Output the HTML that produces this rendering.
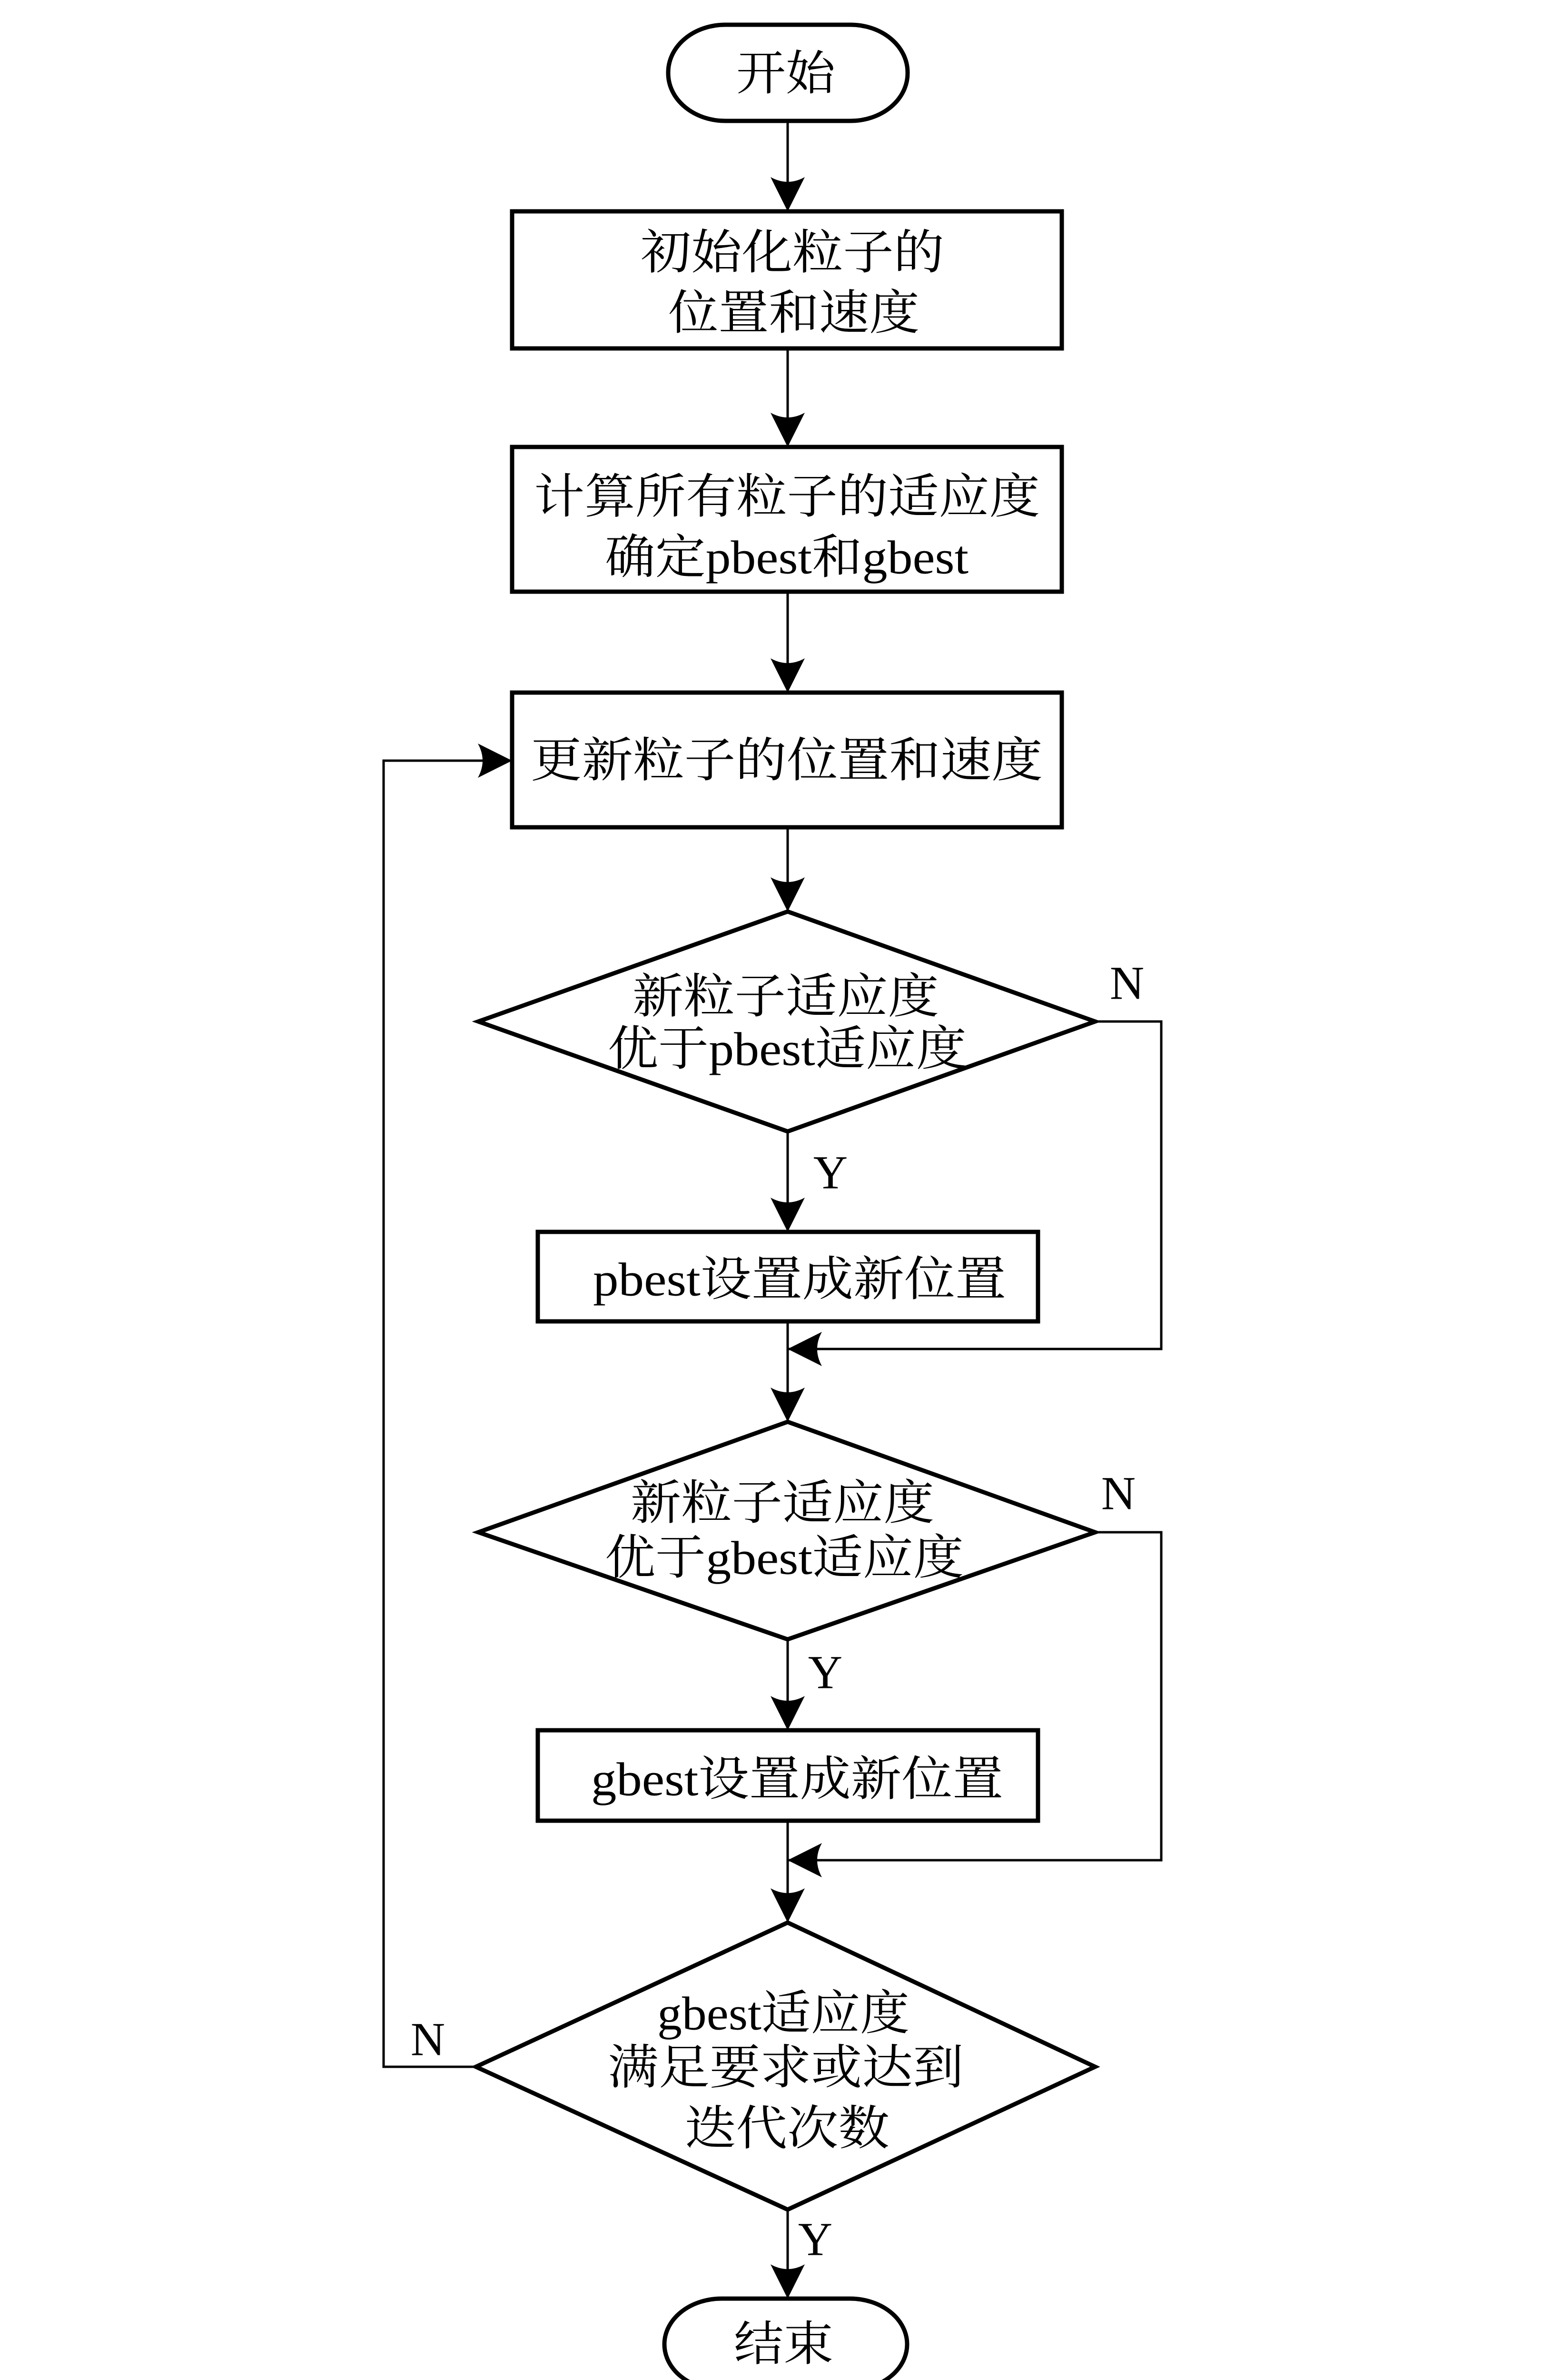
<!DOCTYPE html>
<html><head><meta charset="utf-8"><style>
html,body{margin:0;padding:0;background:#fff;overflow:hidden;}
svg{display:block;}
text{font-family:"Liberation Serif","Noto Serif CJK SC","Noto Sans CJK SC",serif;fill:#000;}
</style></head><body>
<svg width="3240" height="5032" viewBox="0 0 3240 5032" xmlns="http://www.w3.org/2000/svg">
<defs>
<marker id="ah" markerUnits="userSpaceOnUse" markerWidth="80" markerHeight="80" viewBox="-75 -40 80 80" refX="0" refY="0" orient="auto">
<path d="M0,0 L-72,-36 Q-52,0 -72,36 Z" fill="#000"/>
</marker>
</defs>
<g fill="none" stroke="#000" stroke-width="9" stroke-linejoin="miter">
<rect x="1404" y="52" width="503" height="202" rx="120" ry="100"/>
<rect x="1076" y="444" width="1155" height="288"/>
<rect x="1076" y="939" width="1155" height="304"/>
<rect x="1076" y="1455" width="1155" height="283"/>
<polygon points="1655,1915 2301,2146 1655,2377 1005,2146"/>
<rect x="1130" y="2588" width="1051" height="188"/>
<polygon points="1655,2987 2301,3219 1655,3444 1005,3219"/>
<rect x="1130" y="3635" width="1051" height="190"/>
<polygon points="1655,4039 2301,4342 1655,4642 1000,4342"/>
<rect x="1396" y="4829" width="510" height="192" rx="120" ry="96"/>
</g>
<g fill="none" stroke="#000" stroke-width="5">
<line x1="1655" y1="254" x2="1655" y2="444" marker-end="url(#ah)"/>
<line x1="1655" y1="732" x2="1655" y2="939" marker-end="url(#ah)"/>
<line x1="1655" y1="1243" x2="1655" y2="1455" marker-end="url(#ah)"/>
<line x1="1655" y1="1738" x2="1655" y2="1915" marker-end="url(#ah)"/>
<line x1="1655" y1="2377" x2="1655" y2="2588" marker-end="url(#ah)"/>
<line x1="1655" y1="2776" x2="1655" y2="2987" marker-end="url(#ah)"/>
<line x1="1655" y1="3444" x2="1655" y2="3635" marker-end="url(#ah)"/>
<line x1="1655" y1="3825" x2="1655" y2="4039" marker-end="url(#ah)"/>
<line x1="1655" y1="4642" x2="1655" y2="4829" marker-end="url(#ah)"/>
<polyline points="2301,2146 2440,2146 2440,2834 1655,2834" marker-end="url(#ah)"/>
<polyline points="2301,3219 2440,3219 2440,3908 1655,3908" marker-end="url(#ah)"/>
<polyline points="1000,4342 806,4342 806,1598 1076,1598" marker-end="url(#ah)"/>
</g>
<g font-size="100" dominant-baseline="central">
<text x="1547" y="155" textLength="208" lengthAdjust="spacingAndGlyphs">开始</text>
<text x="1346" y="531" textLength="638" lengthAdjust="spacingAndGlyphs">初始化粒子的</text>
<text x="1404" y="658" textLength="528" lengthAdjust="spacingAndGlyphs">位置和速度</text>
<text x="1122" y="1044" textLength="1063" lengthAdjust="spacingAndGlyphs">计算所有粒子的适应度</text>
<text x="1271" y="1171" textLength="764" lengthAdjust="spacingAndGlyphs">确定pbest和gbest</text>
<text x="1115" y="1598" textLength="1076" lengthAdjust="spacingAndGlyphs">更新粒子的位置和速度</text>
<text x="1329" y="2094" textLength="644" lengthAdjust="spacingAndGlyphs">新粒子适应度</text>
<text x="1277" y="2204" textLength="754" lengthAdjust="spacingAndGlyphs">优于pbest适应度</text>
<text x="1246" y="2688" textLength="868" lengthAdjust="spacingAndGlyphs">pbest设置成新位置</text>
<text x="1325" y="3158" textLength="638" lengthAdjust="spacingAndGlyphs">新粒子适应度</text>
<text x="1271" y="3273" textLength="754" lengthAdjust="spacingAndGlyphs">优于gbest适应度</text>
<text x="1242" y="3738" textLength="866" lengthAdjust="spacingAndGlyphs">gbest设置成新位置</text>
<text x="1381" y="4230" textLength="530" lengthAdjust="spacingAndGlyphs">gbest适应度</text>
<text x="1277" y="4344" textLength="748" lengthAdjust="spacingAndGlyphs">满足要求或达到</text>
<text x="1439" y="4472" textLength="430" lengthAdjust="spacingAndGlyphs">迭代次数</text>
<text x="1542" y="4925" textLength="209" lengthAdjust="spacingAndGlyphs">结束</text>
</g>
<g font-size="100" text-anchor="middle" dominant-baseline="central">
<text x="2368" y="2065">N</text>
<text x="2350" y="3137">N</text>
<text x="899" y="4284">N</text>
<text x="1745" y="2463">Y</text>
<text x="1734" y="3513">Y</text>
<text x="1713" y="4704">Y</text>
</g>
</svg>
</body></html>
